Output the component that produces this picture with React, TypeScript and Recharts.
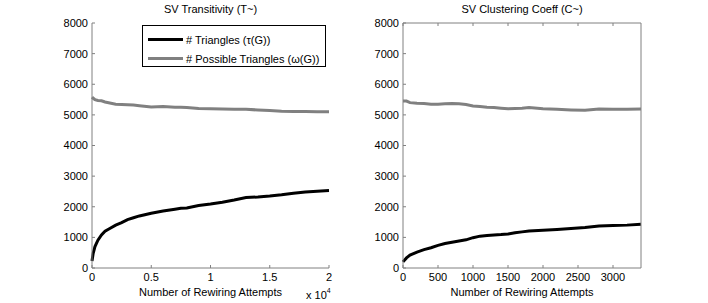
import { Legend, Line, LineChart, XAxis, YAxis } from "recharts";

const leftX = [0, 100, 250, 500, 800, 1100, 1500, 2000, 2500, 3000, 3500, 4000, 5000, 6000, 7000, 7500, 8000, 9000, 10000, 11000, 12000, 13000, 14000, 15000, 16000, 17000, 18000, 19000, 20000];
const leftTriangles = [230, 480, 700, 910, 1080, 1200, 1290, 1400, 1480, 1580, 1640, 1700, 1790, 1860, 1920, 1950, 1960, 2040, 2090, 2150, 2220, 2300, 2320, 2350, 2390, 2440, 2480, 2510, 2530];
const leftPossible = [5580, 5540, 5500, 5470, 5460, 5420, 5390, 5350, 5340, 5330, 5320, 5300, 5260, 5270, 5250, 5250, 5240, 5210, 5200, 5190, 5180, 5180, 5160, 5140, 5120, 5110, 5110, 5100, 5100];

const rightX = [0, 50, 100, 200, 300, 400, 500, 600, 700, 800, 900, 1000, 1100, 1200, 1300, 1400, 1500, 1600, 1700, 1800, 2000, 2200, 2400, 2600, 2800, 3000, 3200, 3400];
const rightTriangles = [200, 330, 420, 520, 600, 660, 740, 800, 840, 880, 920, 990, 1040, 1060, 1080, 1090, 1110, 1150, 1180, 1210, 1230, 1260, 1290, 1320, 1370, 1390, 1400, 1430];
const rightPossible = [5450, 5450, 5400, 5380, 5370, 5350, 5350, 5360, 5370, 5360, 5340, 5290, 5270, 5250, 5240, 5220, 5200, 5210, 5220, 5240, 5200, 5180, 5160, 5150, 5190, 5180, 5180, 5190];

const seriesNames = ["# Triangles (τ(G))", "# Possible Triangles (ω(G))"];
const yTicks = [0, 1000, 2000, 3000, 4000, 5000, 6000, 7000, 8000];
const leftXTicks = [0, 5000, 10000, 15000, 20000];
const rightXTicks = [0, 500, 1000, 1500, 2000, 2500, 3000];

const leftData = leftX.map((x, i) => ({ x, tri: leftTriangles[i], poss: leftPossible[i] }));
const rightData = rightX.map((x, i) => ({ x, tri: rightTriangles[i], poss: rightPossible[i] }));

const FONT = '"Liberation Sans", Arial, Helvetica, sans-serif';
const AXIS = "#808080";
const tickStyle = { fill: "#000", fontSize: 11, fontFamily: FONT };

function LegendBox({ payload }: { payload?: { value: string; color: string }[] }) {
  if (!payload) return null;
  const items = [...payload].sort((a, b) => seriesNames.indexOf(a.value) - seriesNames.indexOf(b.value));
  return (
    <div
      style={{
        boxSizing: "border-box",
        width: 184,
        height: 42,
        border: "1px solid #000",
        background: "#fff",
        paddingTop: 4,
        fontFamily: FONT,
        fontSize: 11,
        color: "#000",
      }}
    >
      {items.map((p) => (
        <div key={p.value} style={{ display: "flex", alignItems: "center", height: 19 }}>
          <span style={{ display: "inline-block", marginLeft: 5, width: 35, height: 3, background: p.color }} />
          <span style={{ marginLeft: 3, whiteSpace: "nowrap" }}>{p.value}</span>
        </div>
      ))}
    </div>
  );
}

const titleStyle = {
  position: "absolute" as const,
  top: 3,
  fontFamily: FONT,
  fontSize: 11,
  textAlign: "center" as const,
  whiteSpace: "nowrap" as const,
};

export default function App() {
  return (
    <div style={{ position: "absolute", left: 0, top: 0, width: 708, height: 303, background: "#fff", overflow: "hidden" }}>
      <div style={{ ...titleStyle, left: 92, width: 237 }}>SV Transitivity (T~)</div>
      <div style={{ ...titleStyle, left: 403, width: 238 }}>SV Clustering Coeff (C~)</div>

      <div style={{ position: "absolute", left: 0, top: 0 }}>
        <LineChart width={360} height={303} data={leftData} margin={{ top: 23, right: 31, left: 52, bottom: 0 }}>
          <XAxis
            dataKey="x"
            type="number"
            domain={[0, 20000]}
            ticks={leftXTicks}
            tickFormatter={(v: number) => `${v / 10000}`}
            height={35}
            stroke={AXIS}
            tickSize={-3}
            tickMargin={8}
            tick={tickStyle}
            label={{ value: "Number of Rewiring Attempts", position: "insideBottom", offset: 7, fill: "#000", fontSize: 11, fontFamily: FONT }}
          />
          <YAxis
            type="number"
            domain={[0, 8000]}
            ticks={yTicks}
            width={40}
            stroke={AXIS}
            tickSize={-3}
            tickMargin={7}
            tick={tickStyle}
          />
          <Legend
            layout="vertical"
            align="center"
            verticalAlign="middle"
            content={<LegendBox />}
            wrapperStyle={{ left: 142, top: 25, width: 184, height: 42 }}
          />
          <Line type="linear" dataKey="tri" name={seriesNames[0]} stroke="#000" strokeWidth={3} dot={false} isAnimationActive={false} />
          <Line type="linear" dataKey="poss" name={seriesNames[1]} stroke="#808080" strokeWidth={3} dot={false} isAnimationActive={false} />
        </LineChart>
      </div>
      <div style={{ position: "absolute", left: 306, top: 287, fontFamily: FONT, fontSize: 11, whiteSpace: "nowrap" }}>
        x 10<sup style={{ fontSize: 7, verticalAlign: "6px" }}>4</sup>
      </div>

      <div style={{ position: "absolute", left: 360, top: 0 }}>
        <LineChart width={360} height={303} data={rightData} margin={{ top: 22, right: 78, left: 3, bottom: 0 }}>
          <XAxis
            dataKey="x"
            type="number"
            domain={[0, 3400]}
            ticks={rightXTicks}
            height={35}
            stroke={AXIS}
            tickSize={-3}
            tickMargin={8}
            tick={tickStyle}
            label={{ value: "Number of Rewiring Attempts", position: "insideBottom", offset: 7, fill: "#000", fontSize: 11, fontFamily: FONT }}
          />
          <XAxis
            xAxisId="top"
            orientation="top"
            dataKey="x"
            type="number"
            domain={[0, 3400]}
            ticks={rightXTicks}
            height={1}
            stroke={AXIS}
            tickSize={-3}
            tickFormatter={() => ""}
          />
          <YAxis
            type="number"
            domain={[0, 8000]}
            ticks={yTicks}
            width={40}
            stroke={AXIS}
            tickSize={-3}
            tickMargin={7}
            tick={tickStyle}
          />
          <YAxis
            yAxisId="right"
            orientation="right"
            type="number"
            domain={[0, 8000]}
            ticks={yTicks}
            width={1}
            stroke={AXIS}
            tickSize={-3}
            tickFormatter={() => ""}
          />
          <Line type="linear" dataKey="tri" stroke="#000" strokeWidth={3} dot={false} isAnimationActive={false} />
          <Line type="linear" dataKey="poss" stroke="#808080" strokeWidth={3} dot={false} isAnimationActive={false} />
        </LineChart>
      </div>
    </div>
  );
}
